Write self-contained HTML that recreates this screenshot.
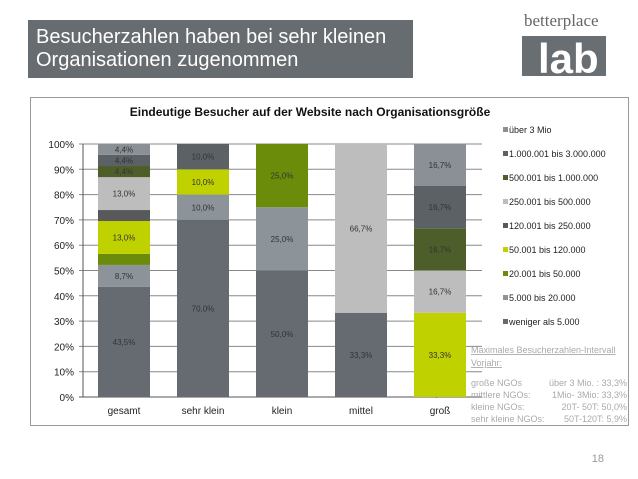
<!DOCTYPE html>
<html><head><meta charset="utf-8"><style>
body{margin:0;width:638px;height:479px;background:#fff;overflow:hidden;font-family:"Liberation Sans",sans-serif;position:relative}
#title{position:absolute;left:28px;top:20px;width:385px;height:58px;background:#676c70;color:#fff;font-size:20px;line-height:23px;padding:6px 0 0 8px;box-sizing:border-box}
</style></head><body>
<div id="title">Besucherzahlen haben bei sehr kleinen<br>Organisationen zugenommen</div>
<svg width="638" height="479" style="position:absolute;left:0;top:0" id="svg">
<g>
<text x="524" y="26" font-family="Liberation Serif" font-size="17" fill="#666">betterplace</text>
<rect x="522" y="36" width="84" height="40" fill="#696e72"/>
<text x="538" y="73" font-family="Liberation Sans" font-weight="bold" font-size="42" fill="#fff">lab</text>
</g>
<rect x="30.5" y="97.5" width="598" height="328" fill="none" stroke="#999"/>
<text x="310" y="116" text-anchor="middle" font-size="12" font-weight="bold" fill="#111">Eindeutige Besucher auf der Website nach Organisationsgröße</text>
<g id="grid"></g><g id="bars"></g><g id="legend"></g>
<g font-size="9" fill="#aaa">
<text x="471" y="353" text-decoration="underline">Maximales Besucherzahlen-Intervall</text>
<text x="471" y="366" text-decoration="underline">Vorjahr:</text>
<text x="471" y="386">große NGOs</text><text x="627" y="386" text-anchor="end">über 3 Mio. : 33,3%</text>
<text x="471" y="398">mittlere NGOs:</text><text x="627" y="398" text-anchor="end">1Mio- 3Mio: 33,3%</text>
<text x="471" y="410">kleine NGOs:</text><text x="627" y="410" text-anchor="end">20T- 50T: 50,0%</text>
<text x="471" y="422">sehr kleine NGOs:</text><text x="627" y="422" text-anchor="end">50T-120T:   5,9%</text>
</g>
<text x="604" y="462" text-anchor="end" font-size="11" fill="#999">18</text>
</svg>
<script>
const categories=["gesamt","sehr klein","klein","mittel","groß"];
const seriesNames=["weniger als 5.000","5.000 bis 20.000","20.001 bis 50.000","50.001 bis 120.000","120.001 bis 250.000","250.001 bis 500.000","500.001 bis 1.000.000","1.000.001 bis 3.000.000","über 3 Mio"];
const seriesColors=["#656b71","#8c9399","#6a8c0a","#bfd200","#58595b","#bdbdbd","#4e5e2a","#5c6166","#8a9096"];
const s0=[43.5,70,50,33.3,0];
const s1=[8.7,10,25,0,0];
const s2=[4.35,0,25,0,0];
const s3=[13.0,10,0,0,33.3];
const s4=[4.35,0,0,0,0];
const s5=[13.0,0,0,66.7,16.7];
const s6=[4.4,0,0,0,16.7];
const s7=[4.4,10,0,0,16.7];
const s8=[4.4,0,0,0,16.7];
const series=[s0,s1,s2,s3,s4,s5,s6,s7,s8];
const labels=[
 ["43,5%","70,0%","50,0%","33,3%","0,0%"],
 ["8,7%","10,0%","25,0%","",""],
 ["","","25,0%","",""],
 ["13,0%","10,0%","","","33,3%"],
 ["","","","","0,0%"],
 ["13,0%","","","66,7%","16,7%"],
 ["4,4%","","","","16,7%"],
 ["4,4%","10,0%","","","16,7%"],
 ["4,4%","","","","16,7%"]];
const yTicks=[0,10,20,30,40,50,60,70,80,90,100];
const NS="http://www.w3.org/2000/svg";
const y=v=>397-v*2.53, x=i=>98+i*79;
function mk(t,a,p){const e=document.createElementNS(NS,t);for(const k in a)e.setAttribute(k,a[k]);p.appendChild(e);return e;}
const G=document.getElementById("grid"),B=document.getElementById("bars"),L=document.getElementById("legend");
yTicks.forEach(t=>{
 const l=mk("line",{x1:79,x2:482,y1:y(t),y2:y(t),stroke:t?"#888":"#555","stroke-width":1},G);
 
 
 const tx=mk("text",{x:74,y:y(t)+4,"text-anchor":"end","font-size":10,fill:"#222"},G);tx.textContent=t+"%";
 
 
});
mk("line",{x1:83,x2:83,y1:y(100),y2:y(0),stroke:"#555"},G);
categories.forEach((c,i)=>{
 const t=mk("text",{x:x(i)+26,y:414,"text-anchor":"middle","font-size":10,fill:"#222"},G);t.textContent=c;
 
 
 let cum=0;
 series.forEach((s,k)=>{
  const v=s[i];
  if(v>0){const r=mk("rect",{x:x(i),y:y(cum+v),width:52,height:v*2.53,fill:seriesColors[k]},B);
   
   }
  if(labels[k][i]){const ty=v>0?y(cum+v/2)+3:y(cum)+ (k==0?0:-3);
   const tt=mk("text",{x:x(i)+26,y:ty,"text-anchor":"middle","font-size":8,fill:"#333"},B);tt.textContent=labels[k][i];
   
   }
  cum+=v;
 });
});
for(let k=8;k>=0;k--){
 const yy=133+(8-k)*24;
 const g=mk("g",{},L);
 
 
 mk("rect",{x:503,y:yy-6,width:5,height:5,fill:seriesColors[k]},g);
 const t=mk("text",{x:509,y:yy,"font-size":9,fill:"#222"},g);t.textContent=seriesNames[k];
}
</script>
</body></html>
